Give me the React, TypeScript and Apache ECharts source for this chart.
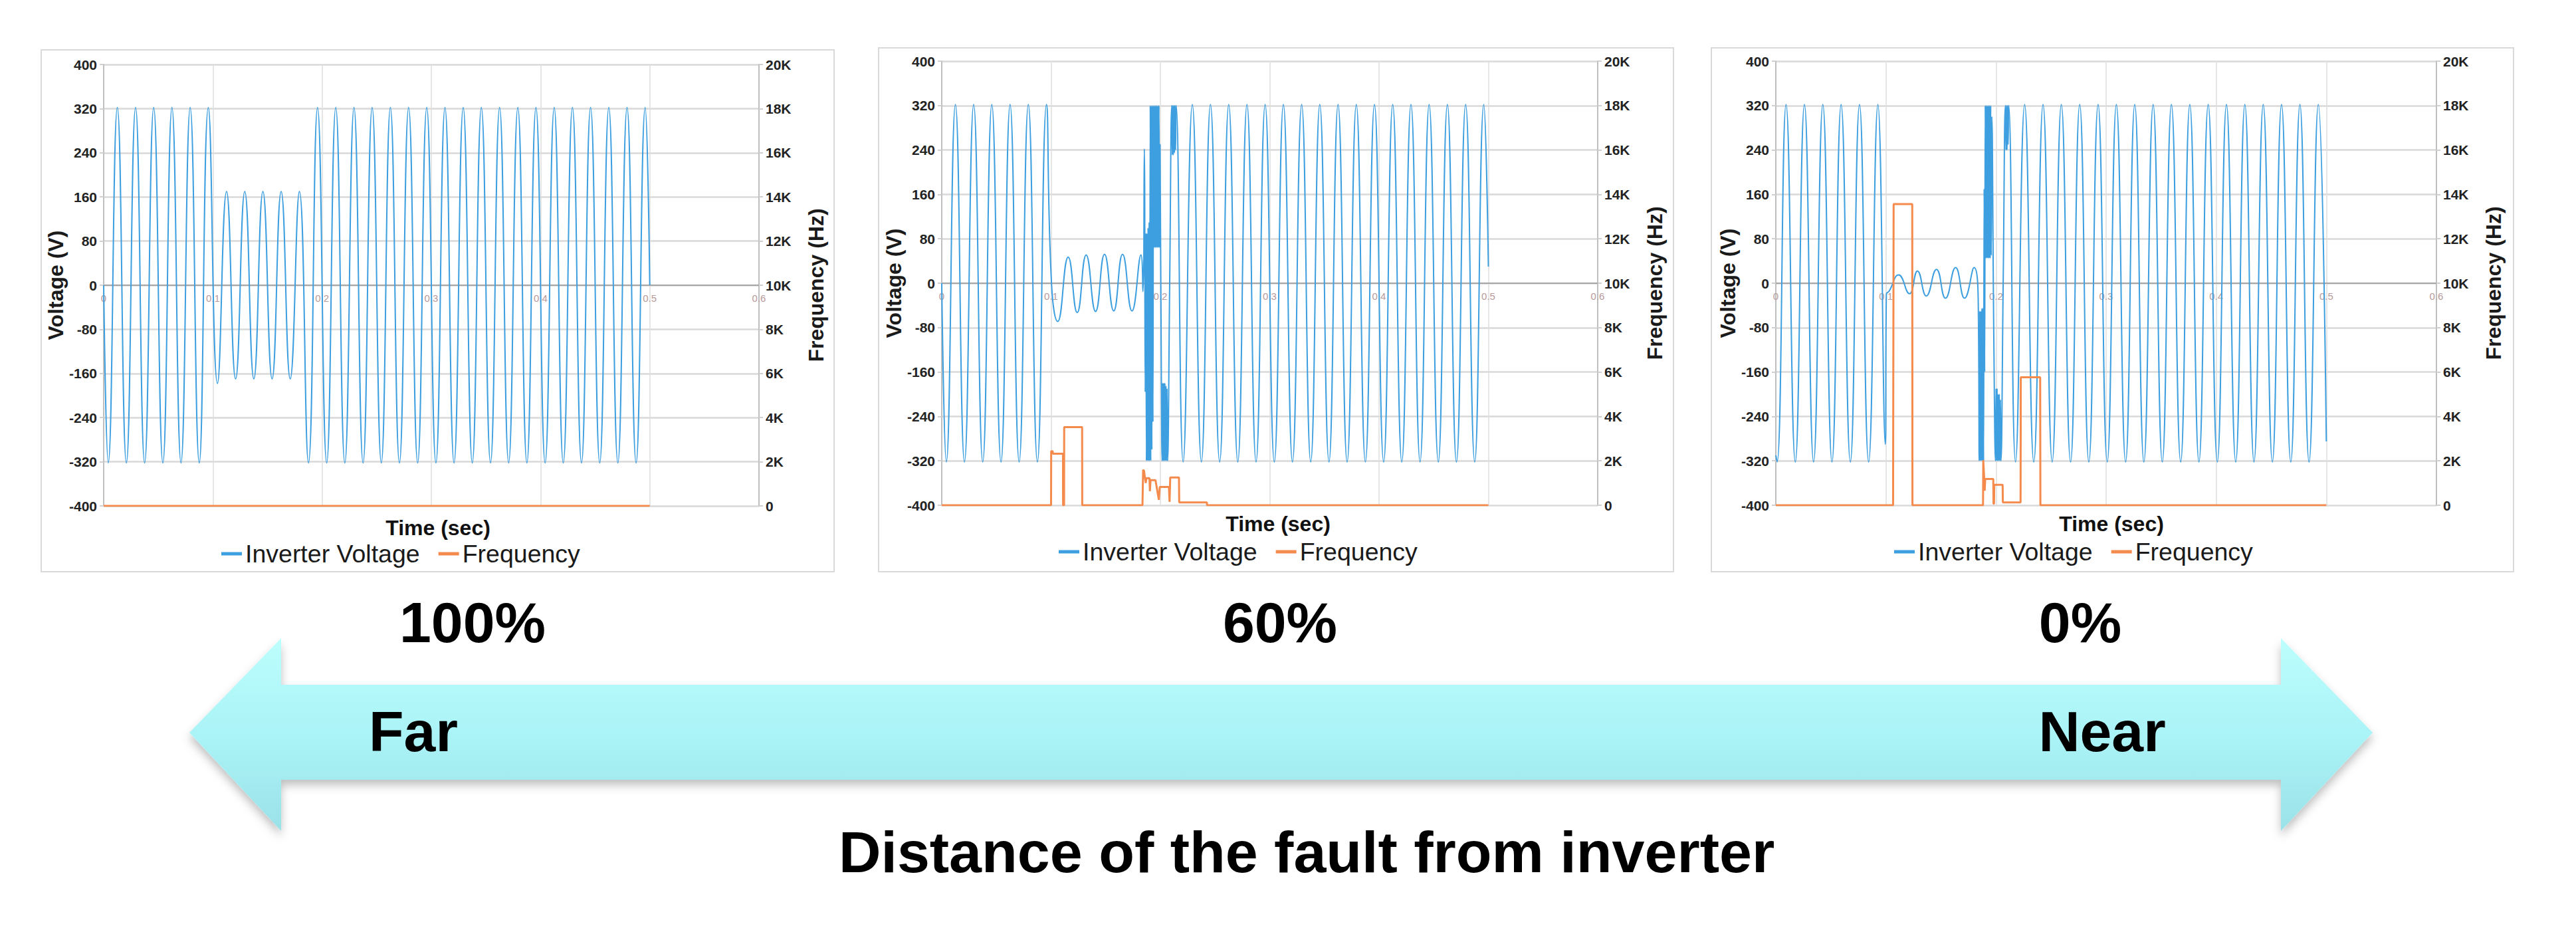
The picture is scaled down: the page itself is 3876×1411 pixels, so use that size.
import React, { useEffect, useRef } from "react";
import * as echarts from "echarts";

const FONT = '"Liberation Sans", Arial, Helvetica, sans-serif';

// ---------- data (time [s], value) ----------
// healthy 60 Hz extremes shared by the 100% and 60% cases (start)
const headAB: number[][] = [
  [0, 0], [0.0042, -322], [0.0125, 322], [0.0208, -322], [0.0292, 322], [0.0375, -322], [0.0458, 322],
  [0.0542, -322], [0.0625, 322], [0.0708, -322], [0.0792, 322], [0.0875, -322], [0.0958, 322],
];
// healthy extremes after the transient, shared by the 100% and 60% cases
const tailAB: number[][] = [
  [0.2208, -322], [0.2292, 322], [0.2375, -322], [0.2458, 322], [0.2542, -322], [0.2625, 322],
  [0.2708, -322], [0.2792, 322], [0.2875, -322], [0.2958, 322], [0.3042, -322], [0.3125, 322],
  [0.3208, -322], [0.3292, 322], [0.3375, -322], [0.3458, 322], [0.3542, -322], [0.3625, 322],
  [0.3708, -322], [0.3792, 322], [0.3875, -322], [0.3958, 322], [0.4042, -322], [0.4125, 322],
  [0.4208, -322], [0.4292, 322], [0.4375, -322], [0.4458, 322], [0.4542, -322], [0.4625, 322],
  [0.4708, -322], [0.4792, 322], [0.4875, -322], [0.4958, 322],
];
// 100 %: voltage sag during the fault
const fault100: number[][] = [
  [0.1042, -178], [0.1125, 170], [0.1208, -170], [0.1292, 170], [0.1375, -170], [0.1458, 170],
  [0.1542, -170], [0.1625, 170], [0.1708, -170], [0.1792, 170], [0.1875, -322], [0.1958, 322],
  [0.2042, -322], [0.2125, 322],
];
const end100: number[][] = [[0.5, 0]];
// 60 %
const fault60: number[][] = [
  [0.1004, 0], [0.1061, -69], [0.1157, 47], [0.1239, -53], [0.1321, 51], [0.1407, -51], [0.1489, 52],
  [0.1573, -50], [0.1654, 52], [0.174, -50], [0.1822, 51],
  [0.184, -15], [0.1853, 242], [0.1861, -196], [0.1867, 90], [0.1872, -320], [0.1877, 90], [0.1882, -320],
  [0.1887, 100], [0.1892, -320], [0.1897, 110], [0.1902, -320], [0.1907, 320], [0.1912, -320],
  [0.1917, 320], [0.1922, -300], [0.1927, 320], [0.1932, -250], [0.1937, 320], [0.1942, 64],
  [0.1947, 320], [0.1952, 64], [0.1957, 320], [0.1962, 64], [0.1967, 320], [0.1972, 64], [0.1977, 320],
  [0.1982, 64], [0.1987, 320], [0.1992, 64], [0.1997, 250], [0.2008, -140], [0.2016, -320],
  [0.2021, -180], [0.2026, -320], [0.2031, -180], [0.2036, -320], [0.2041, -180], [0.2046, -320],
  [0.2051, -185], [0.2056, -320], [0.2061, -190], [0.2066, -320], [0.2085, 0], [0.2104, 320],
  [0.2109, 231], [0.2114, 320], [0.2119, 231], [0.2124, 320], [0.2129, 235], [0.2134, 320],
  [0.2139, 240], [0.2144, 320],
];
const end60: number[][] = [[0.5, 30]];
// 0 %
const head0: number[][] = [
  [0, -310], [0.0012, -322], [0.0093, 322], [0.0177, -322], [0.026, 322], [0.0343, -322], [0.0427, 322],
  [0.051, -322], [0.0593, 322], [0.0677, -322], [0.076, 322], [0.0843, -322], [0.0927, 322],
];
const fault0: number[][] = [
  [0.0994, -290], [0.1004, -20], [0.103, -14], [0.1116, 15], [0.1214, -19], [0.1286, 22], [0.1367, -23],
  [0.1459, 25], [0.1541, -27], [0.1633, 28], [0.1714, -27], [0.18, 28],
  [0.184, -60], [0.1847, -320], [0.1852, -50], [0.1857, -320], [0.1862, -50], [0.1867, -320],
  [0.1872, -45], [0.1877, -320], [0.1882, -45], [0.1887, -320], [0.1892, 170], [0.1897, -160],
  [0.1902, 320], [0.1907, 45], [0.1912, 320], [0.1917, 45], [0.1922, 320], [0.1927, 45], [0.1932, 320],
  [0.1937, 45], [0.1942, 320], [0.1947, 45], [0.1952, 320], [0.1957, 50], [0.1962, 300], [0.198, -100],
  [0.1995, -320], [0.2, -190], [0.2005, -320], [0.201, -190], [0.2015, -320], [0.202, -200],
  [0.2025, -320], [0.203, -200], [0.2035, -320], [0.204, -210], [0.2045, -320], [0.2065, 0],
  [0.2085, 320], [0.209, 240], [0.2095, 320], [0.21, 240], [0.2105, 320], [0.211, 250], [0.2115, 320],
];
const tail0: number[][] = [
  [0.2177, -322], [0.226, 322], [0.2343, -322], [0.2427, 322], [0.251, -322], [0.2593, 322],
  [0.2677, -322], [0.276, 322], [0.2843, -322], [0.2927, 322], [0.301, -322], [0.3093, 322],
  [0.3177, -322], [0.326, 322], [0.3343, -322], [0.3427, 322], [0.351, -322], [0.3593, 322],
  [0.3677, -322], [0.376, 322], [0.3843, -322], [0.3927, 322], [0.401, -322], [0.4093, 322],
  [0.4177, -322], [0.426, 322], [0.4343, -322], [0.4427, 322], [0.451, -322], [0.4593, 322],
  [0.4677, -322], [0.476, 322], [0.4843, -322], [0.4927, 322], [0.5, -285],
];

// frequency (Hz)
const freq100: number[][] = [[0, 0], [0.5, 0]];
const freq60: number[][] = [
  [0, 0], [0.1, 0], [0.1001, 2430], [0.1015, 2430], [0.1016, 2320], [0.1109, 2320], [0.111, 0],
  [0.1119, 0], [0.112, 3520], [0.1284, 3520], [0.1285, 0], [0.1836, 0], [0.1842, 1600], [0.185, 1550],
  [0.186, 1200], [0.1866, 1000], [0.1872, 1220], [0.19, 1220], [0.1904, 630], [0.191, 1130],
  [0.1955, 1130], [0.1986, 240], [0.1994, 820], [0.2078, 820], [0.2084, 150], [0.209, 1250],
  [0.217, 1250], [0.2172, 130], [0.2425, 130], [0.2427, 0], [0.5, 0],
];
const freq0: number[][] = [
  [0, 0], [0.1065, 0], [0.107, 13560], [0.1239, 13560], [0.1241, 0], [0.1882, 0], [0.1884, 2030],
  [0.1888, 2030], [0.1893, 1180], [0.1897, 650], [0.1902, 1180], [0.1975, 1180], [0.1977, 70],
  [0.1982, 70], [0.1984, 920], [0.206, 920], [0.2062, 130], [0.2223, 130], [0.2225, 5760],
  [0.2401, 5760], [0.2403, 0], [0.5, 0],
];

const voltageSets = [
  [...headAB, ...fault100, ...tailAB, ...end100],
  [...headAB, ...fault60, ...tailAB, ...end60],
  [...head0, ...fault0, ...tail0],
];
const freqSets = [freq100, freq60, freq0];

const voltTicks = { min: -400, max: 400, interval: 80 };
const freqTicks = { min: 0, max: 20000, interval: 2000 };
const timeTicks = { min: 0, max: 0.6, interval: 0.1 };
const caseLabels = ["100%", "60%", "0%"];
const seriesNames = ["Inverter Voltage", "Frequency"];

const BLUE = "#3d9fe0";
const ORANGE = "#f48b4c";

// layout
const grids = [
  { left: 156, top: 97, width: 986, height: 664 },
  { left: 1417, top: 92, width: 987, height: 668 },
  { left: 2672, top: 92, width: 994, height: 668 },
];
const panels = [
  { x: 62, y: 75, w: 1193, h: 785 },
  { x: 1322, y: 72, w: 1196, h: 788 },
  { x: 2575, y: 72, w: 1207, h: 788 },
];
const timeTitlePos = [[659, 794], [1923, 788], [3177, 788]];
const legendPos = [[333, 812], [1593, 809], [2850, 809]];
const caseLabelPos = [[711, 936], [1926, 936], [3130, 936]];

export default function App() {
  const ref = useRef<HTMLDivElement>(null);
  useEffect(() => {
    if (!ref.current) return;
    const chart = echarts.init(ref.current, undefined, { renderer: "svg" });

    const xAxis: any[] = [];
    const yAxis: any[] = [];
    const series: any[] = [];
    const legend: any[] = [];

    grids.forEach((g, i) => {
      xAxis.push({
        gridIndex: i,
        type: "value",
        ...timeTicks,
        position: "bottom",
        // the time axis crosses the voltage axis at 0 V (middle of the plot)
        offset: -g.height / 2,
        axisLine: { onZero: false, lineStyle: { color: "#a6a6a6", width: 2 } },
        axisTick: { show: false },
        axisLabel: {
          fontSize: 15,
          color: "#b89a9a",
          fontFamily: FONT,
          margin: 12,
          formatter: (v: number) => String(+v.toFixed(1)),
        },
        splitLine: { show: true, lineStyle: { color: "#dedede", width: 1.5 } },
      });
      yAxis.push({
        gridIndex: i,
        type: "value",
        position: "left",
        ...voltTicks,
        name: "Voltage (V)",
        nameLocation: "middle",
        nameGap: 51,
        nameRotate: 90,
        nameTextStyle: { fontSize: 32, fontWeight: "bold", color: "#1a1a1a", fontFamily: FONT },
        axisLine: { show: true, onZero: false, lineStyle: { color: "#bfbfbf", width: 2 } },
        axisTick: { show: true, length: 6, lineStyle: { color: "#d0d0d0", width: 2 } },
        axisLabel: { fontSize: 21, fontWeight: "bold", color: "#222", fontFamily: FONT, margin: 10 },
        splitLine: { show: true, lineStyle: { color: "#d9d9d9", width: 2.5 } },
      });
      yAxis.push({
        gridIndex: i,
        type: "value",
        position: "right",
        ...freqTicks,
        name: "Frequency (Hz)",
        nameLocation: "middle",
        nameGap: 70,
        nameRotate: 90,
        nameTextStyle: { fontSize: 32, fontWeight: "bold", color: "#1a1a1a", fontFamily: FONT },
        axisLine: { show: true, onZero: false, lineStyle: { color: "#bfbfbf", width: 2 } },
        axisTick: { show: true, length: 6, lineStyle: { color: "#d0d0d0", width: 2 } },
        axisLabel: {
          fontSize: 21,
          fontWeight: "bold",
          color: "#222",
          fontFamily: FONT,
          margin: 10,
          formatter: (v: number) => (v === 0 ? "0" : v / 1000 + "K"),
        },
        splitLine: { show: false },
      });
      series.push({
        type: "line",
        name: seriesNames[0],
        xAxisIndex: i,
        yAxisIndex: 2 * i,
        data: voltageSets[i],
        symbol: "none",
        showSymbol: false,
        smooth: 0.5,
        lineStyle: { color: BLUE, width: 2 },
        itemStyle: { color: BLUE },
        z: 2,
      });
      series.push({
        type: "line",
        name: seriesNames[1],
        xAxisIndex: i,
        yAxisIndex: 2 * i + 1,
        data: freqSets[i],
        symbol: "none",
        showSymbol: false,
        smooth: false,
        lineStyle: { color: ORANGE, width: 3 },
        itemStyle: { color: ORANGE },
        z: 3,
      });
      legend.push({
        left: legendPos[i][0],
        top: legendPos[i][1],
        padding: 0,
        data: seriesNames,
        icon: "rect",
        itemWidth: 31,
        itemHeight: 5,
        itemGap: 28,
        selectedMode: false,
        textStyle: { fontSize: 37.5, color: "#1a1a1a", fontFamily: FONT, lineHeight: 42 },
      });
    });

    const textEl = (text: string, x: number, y: number, size: number) => ({
      type: "text",
      x,
      y,
      silent: true,
      style: {
        text,
        fill: "#000",
        fontSize: size,
        fontWeight: "bold",
        fontFamily: FONT,
        align: "center",
        verticalAlign: "middle",
      },
    });

    const graphic: any[] = [];
    panels.forEach((p) => {
      graphic.push({
        type: "rect",
        silent: true,
        shape: { x: p.x, y: p.y, width: p.w, height: p.h },
        style: { fill: "none", stroke: "#d9d9d9", lineWidth: 2 },
      });
    });
    timeTitlePos.forEach((p) => {
      graphic.push({
        type: "text",
        x: p[0],
        y: p[1],
        silent: true,
        style: {
          text: "Time (sec)",
          fill: "#111",
          fontSize: 32,
          fontWeight: "bold",
          fontFamily: FONT,
          align: "center",
          verticalAlign: "middle",
        },
      });
    });
    graphic.push({
      type: "polygon",
      silent: true,
      shape: {
        points: [
          [285, 1102], [423, 960], [423, 1030], [3432, 1030], [3432, 960], [3570, 1102],
          [3432, 1250], [3432, 1173], [423, 1173], [423, 1250],
        ],
      },
      style: {
        fill: new echarts.graphic.LinearGradient(0, 0, 0, 1, [
          { offset: 0, color: "#bdfefe" },
          { offset: 0.5, color: "#aaf3f6" },
          { offset: 1, color: "#9be2e8" },
        ]),
        shadowBlur: 14,
        shadowOffsetY: 8,
        shadowColor: "rgba(0,0,0,0.25)",
      },
    });
    caseLabels.forEach((t, i) => graphic.push(textEl(t, caseLabelPos[i][0], caseLabelPos[i][1], 86)));
    graphic.push(textEl("Far", 622, 1100, 86));
    graphic.push(textEl("Near", 3163, 1100, 86));
    graphic.push(textEl("Distance of the fault from inverter", 1966, 1281, 88));

    chart.setOption({
      animation: false,
      backgroundColor: "#ffffff",
      grid: grids,
      xAxis,
      yAxis,
      series,
      legend,
      graphic,
    });
    return () => chart.dispose();
  }, []);

  return (
    <div
      ref={ref}
      style={{ position: "absolute", left: 0, top: 0, width: 3876, height: 1411, background: "#fff" }}
    />
  );
}
